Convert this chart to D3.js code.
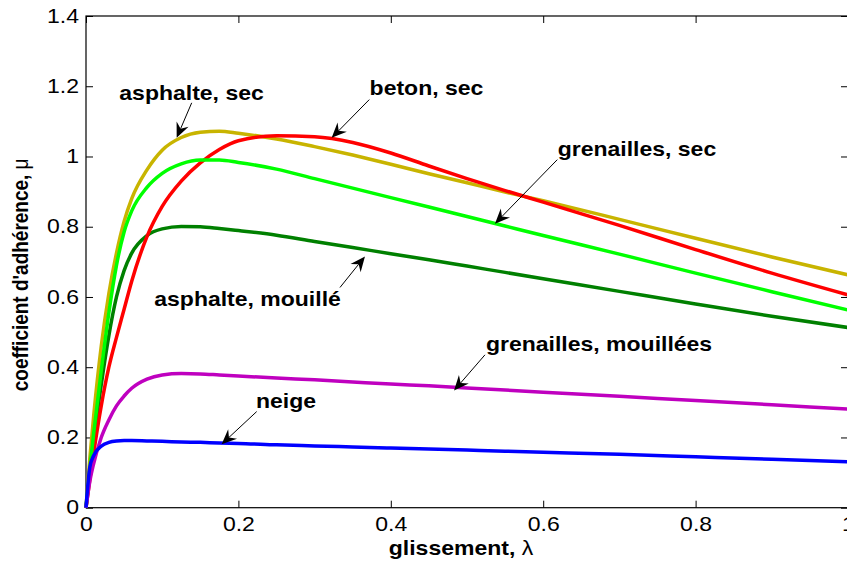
<!DOCTYPE html>
<html lang="fr">
  <head>
    <meta charset="UTF-8" />
    <title>coefficient d'adhérence</title>
    <style>
      body { margin: 0; background: #fff; }
      svg { display: block; }
    </style>
  </head>
  <body>
    <div class="chart"></div>
    <script src="https://d3js.org/d3.v7.min.js"></script>
    <script>
      // glissement (x) commun à toutes les courbes
      const lambda = [0, 0.005, 0.01, 0.02, 0.03, 0.04, 0.05, 0.06, 0.08, 0.1, 0.125, 0.15, 0.175, 0.2, 0.25, 0.3, 0.35, 0.4, 0.45, 0.5, 0.55, 0.6, 0.7, 0.8, 0.9, 1.0];

      // coefficient d'adhérence
      const asphalteSec = [0, 0.14, 0.26, 0.46, 0.61, 0.725, 0.815, 0.88, 0.962, 1.018, 1.054, 1.069, 1.072, 1.066, 1.05, 1.028, 1.004, 0.978, 0.951, 0.925, 0.899, 0.874, 0.821, 0.767, 0.714, 0.663];
      const asphalteMouille = [0, 0.10, 0.19, 0.35, 0.49, 0.60, 0.675, 0.725, 0.775, 0.794, 0.801, 0.800, 0.795, 0.789, 0.776, 0.758, 0.741, 0.723, 0.706, 0.688, 0.670, 0.652, 0.616, 0.58, 0.545, 0.513];
      const betonSec = [0, 0.08, 0.155, 0.29, 0.40, 0.485, 0.565, 0.645, 0.772, 0.858, 0.93, 0.982, 1.02, 1.045, 1.059, 1.056, 1.04, 1.01, 0.973, 0.937, 0.903, 0.870, 0.804, 0.735, 0.668, 0.606];
      const grenaillesSec = [0, 0.11, 0.21, 0.39, 0.555, 0.69, 0.785, 0.845, 0.912, 0.952, 0.979, 0.99, 0.99, 0.983, 0.964, 0.937, 0.910, 0.883, 0.856, 0.829, 0.802, 0.775, 0.722, 0.668, 0.615, 0.563];
      const grenaillesMouillees = [0, 0.075, 0.125, 0.2, 0.25, 0.29, 0.318, 0.34, 0.366, 0.378, 0.382, 0.381, 0.378, 0.375, 0.369, 0.364, 0.358, 0.352, 0.347, 0.341, 0.335, 0.329, 0.317, 0.305, 0.293, 0.281];
      const neige = [0, 0.115, 0.148, 0.175, 0.186, 0.19, 0.191, 0.191, 0.19, 0.189, 0.187, 0.186, 0.184, 0.183, 0.179, 0.176, 0.173, 0.17, 0.167, 0.164, 0.161, 0.158, 0.152, 0.145, 0.138, 0.131];

      const seriesNames = ["asphalte, sec", "asphalte, mouillé", "beton, sec", "grenailles, sec", "grenailles, mouillées", "neige"];
      const seriesValues = [asphalteSec, asphalteMouille, betonSec, grenaillesSec, grenaillesMouillees, neige];
      const seriesColors = ["#c8b400", "#008000", "#ff0000", "#00ff00", "#bf00bf", "#0000ff"];

      // graduations
      const xTicks = [0, 0.2, 0.4, 0.6, 0.8, 1];
      const xTickLabels = ["0", "0.2", "0.4", "0.6", "0.8", "1"];
      const yTicks = [0, 0.2, 0.4, 0.6, 0.8, 1, 1.2, 1.4];
      const yTickLabels = ["0", "0.2", "0.4", "0.6", "0.8", "1", "1.2", "1.4"];

      // annotations : texte (x, y) et flèche (départ -> pointe), en unités des données
      const noteText = ["asphalte, sec", "beton, sec", "grenailles, sec", "asphalte, mouillé", "grenailles, mouillées", "neige"];
      const noteTextPos = [[0.1385, 1.162], [0.4468, 1.174], [0.723, 1.0], [0.212, 0.574], [0.6733, 0.4475], [0.2625, 0.284]];
      const noteArrowFrom = [[0.1387, 1.1528], [0.3718, 1.162], [0.6185, 0.991], [0.3333, 0.627], [0.5236, 0.4353], [0.224, 0.2737]];
      const noteArrowTo = [[0.119, 1.053], [0.3224, 1.053], [0.5367, 0.8087], [0.3661, 0.7155], [0.483, 0.3335], [0.178, 0.1807]];

      const drawChart = () => {
        const W = 847, H = 563;
        const margin = {top: 16, right: -1, bottom: 55.3, left: 86},
          width = W - margin.left - margin.right,
          height = H - margin.top - margin.bottom;
        const stretch = "scale(1.18,1)";
        const font = "'Liberation Sans', Arial, Helvetica, sans-serif";

        const root = d3.select(".chart")
          .append("svg")
            .attr("width", W)
            .attr("height", H);
        root.append("rect").attr("width", W).attr("height", H).attr("fill", "#fff");

        const svg = root.append("g")
          .attr("transform", `translate(${margin.left}, ${margin.top})`);

        const x = d3.scaleLinear().domain([0, 1]).range([0, width]);
        const y = d3.scaleLinear().domain([0, 1.4]).range([height, 0]);

        // axes (graduations vers l'intérieur)
        const styleAxis = g => {
          g.attr("font-family", font).attr("font-size", 19.5);
          g.select(".domain").remove();
          g.selectAll(".tick line").attr("stroke", "#000").attr("stroke-width", 1);
          g.selectAll("text").attr("fill", "#000");
        };

        svg.append("g")
          .attr("transform", `translate(0, ${height})`)
          .call(d3.axisBottom(x).tickValues(xTicks).tickFormat((d, i) => xTickLabels[i])
            .tickSizeInner(-7).tickSizeOuter(0).tickPadding(9.5))
          .call(styleAxis)
          .selectAll("text").attr("transform", stretch);

        svg.append("g")
          .call(d3.axisLeft(y).tickValues(yTicks).tickFormat((d, i) => yTickLabels[i])
            .tickSizeInner(-7).tickSizeOuter(0).tickPadding(6))
          .call(styleAxis)
          .selectAll("text").attr("transform", stretch);

        svg.append("g")
          .call(d3.axisTop(x).tickValues(xTicks).tickFormat("").tickSizeInner(-7).tickSizeOuter(0))
          .call(styleAxis);

        svg.append("g")
          .attr("transform", `translate(${width}, 0)`)
          .call(d3.axisRight(y).tickValues(yTicks).tickFormat("").tickSizeInner(-7).tickSizeOuter(0))
          .call(styleAxis);

        svg.append("rect")
          .attr("width", width).attr("height", height)
          .attr("fill", "none").attr("stroke", "#000").attr("stroke-width", 1.2);

        // courbes
        const line = d3.line()
          .x((d, i) => x(lambda[i]))
          .y(d => y(d))
          .curve(d3.curveMonotoneX);

        svg.selectAll(".curve")
          .data(seriesValues)
          .join("path")
            .attr("class", "curve")
            .attr("fill", "none")
            .attr("stroke", (d, i) => seriesColors[i])
            .attr("stroke-width", 3.5)
            .attr("stroke-linejoin", "round")
            .attr("d", line);

        // flèches
        const arrows = svg.append("g");
        noteArrowTo.forEach((tip, i) => {
          const x0 = x(noteArrowFrom[i][0]), y0 = y(noteArrowFrom[i][1]);
          const x1 = x(tip[0]), y1 = y(tip[1]);
          const a = Math.atan2(y1 - y0, x1 - x0);
          const L = 15, Wd = 6.5, N = 10;
          const ux = Math.cos(a), uy = Math.sin(a), px = -uy, py = ux;
          arrows.append("line")
            .attr("x1", x0).attr("y1", y0)
            .attr("x2", x1 - ux * N).attr("y2", y1 - uy * N)
            .attr("stroke", "#000").attr("stroke-width", 1);
          const head = [
            [x1, y1],
            [x1 - ux * L + px * Wd, y1 - uy * L + py * Wd],
            [x1 - ux * N, y1 - uy * N],
            [x1 - ux * L - px * Wd, y1 - uy * L - py * Wd]
          ];
          arrows.append("path")
            .attr("d", "M" + head.map(p => p.join(",")).join("L") + "Z")
            .attr("fill", "#000");
        });

        // étiquettes
        svg.append("g")
          .selectAll("text")
          .data(noteText)
          .join("text")
            .attr("transform", (d, i) => `translate(${x(noteTextPos[i][0])}, ${y(noteTextPos[i][1])}) ${stretch}`)
            .attr("text-anchor", "middle")
            .attr("font-family", font)
            .attr("font-weight", "bold")
            .attr("font-size", 19.5)
            .text(d => d);

        // titres des axes
        const xl = root.append("text")
          .attr("transform", `translate(${margin.left + x(0.5) - 6}, 555) ${stretch}`)
          .attr("text-anchor", "middle")
          .attr("font-family", font)
          .attr("font-size", 19.5)
          .attr("font-weight", "bold");
        xl.append("tspan").text("glissement, ");
        xl.append("tspan").attr("font-weight", "normal").text("λ");

        const yl = root.append("text")
          .attr("transform", `translate(28, ${margin.top + y(0.7) + 13}) rotate(-90) scale(1,1.18)`)
          .attr("text-anchor", "middle")
          .attr("font-family", font)
          .attr("font-size", 19)
          .attr("font-weight", "bold");
        yl.append("tspan").text("coefficient d'adhérence, ");
        yl.append("tspan").attr("font-weight", "normal").text("μ");
      };

      drawChart();
    </script>
  </body>
</html>
